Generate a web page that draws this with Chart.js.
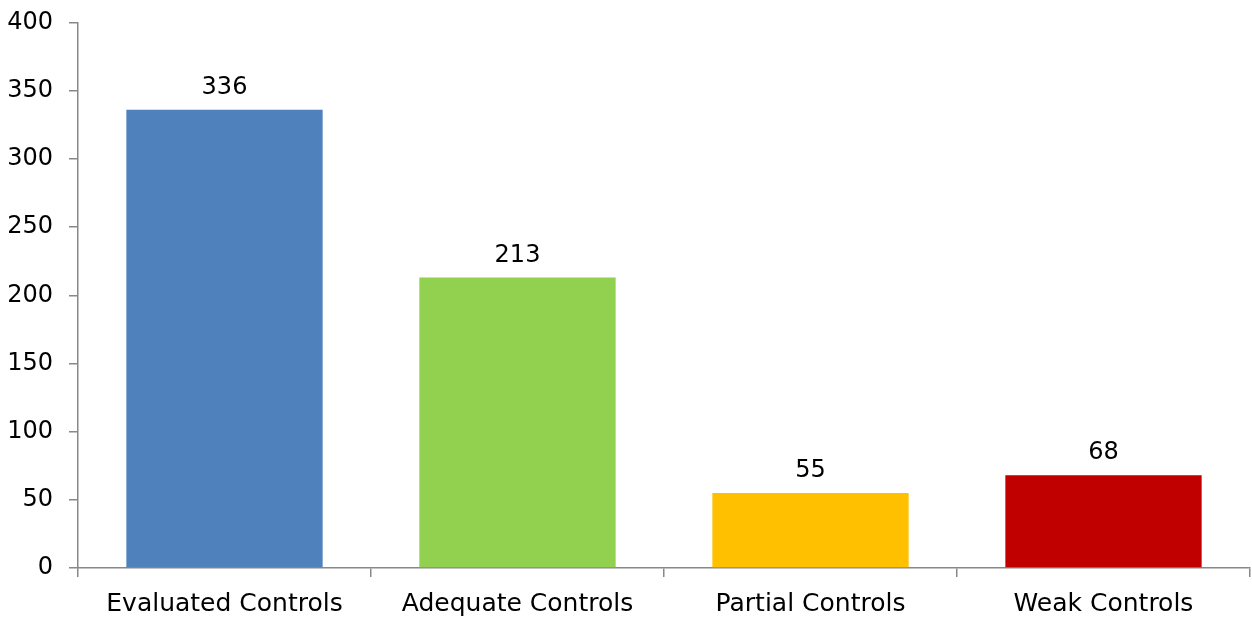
<!DOCTYPE html>
<html>
<head>
<meta charset="utf-8">
<script src="https://cdn.jsdelivr.net/npm/chart.js@4"></script>
<style>
  html, body { margin: 0; padding: 0; background: #fff; }
</style>
</head>
<body>
<canvas id="myChart" width="1252" height="617"></canvas>
<script>
var categories = ["Evaluated Controls", "Adequate Controls", "Partial Controls", "Weak Controls"]
var counts = [336, 213, 55, 68]
var barColors = ["#4F81BD", "#92D050", "#FFC000", "#C00000"]
var yTicks = [0, 50, 100, 150, 200, 250, 300, 350, 400]

var fontFamily = "'DejaVu Sans', sans-serif"
var fontSize = 24

// numbers above each bar
var valueLabels = {
    id: "valueLabels",
    afterDatasetsDraw: function (chart) {
        var ctx = chart.ctx
        var meta = chart.getDatasetMeta(0)
        ctx.save()
        ctx.fillStyle = "#000"
        ctx.font = fontSize + "px " + fontFamily
        ctx.textAlign = "center"
        ctx.textBaseline = "alphabetic"
        meta.data.forEach(function (bar, i) {
            ctx.fillText(counts[i], bar.x, bar.y - 16)
        })
        ctx.restore()
    }
}

new Chart("myChart", {
    type: "bar",
    data: {
        labels: categories,
        datasets: [{
            data: counts,
            backgroundColor: barColors,
            barPercentage: 0.67,
            categoryPercentage: 1
        }]
    },
    options: {
        responsive: false,
        animation: false,
        layout: { padding: { left: 0, right: 2, top: 0, bottom: -14 } },
        plugins: {
            legend: { display: false },
            tooltip: { enabled: false }
        },
        scales: {
            x: {
                grid: {
                    display: true,
                    drawOnChartArea: false,
                    offset: true,
                    color: "#888",
                    lineWidth: 1.5,
                    tickLength: 9
                },
                border: { color: "#888", width: 1.5 },
                ticks: {
                    color: "#000",
                    font: { size: 25, family: fontFamily },
                    padding: 12
                }
            },
            y: {
                min: 0,
                max: 400,
                afterFit: function (scale) { scale.width = 78 },
                afterBuildTicks: function (scale) {
                    scale.ticks = yTicks.map(function (v) { return { value: v } })
                },
                grid: {
                    display: true,
                    drawOnChartArea: false,
                    color: "#888",
                    lineWidth: 1.5,
                    tickLength: 9
                },
                border: { color: "#888", width: 1.5 },
                ticks: {
                    color: "#000",
                    font: { size: fontSize, family: fontFamily, lineHeight: 0.55 },
                    padding: 16
                }
            }
        }
    },
    plugins: [valueLabels]
});
</script>
</body>
</html>
